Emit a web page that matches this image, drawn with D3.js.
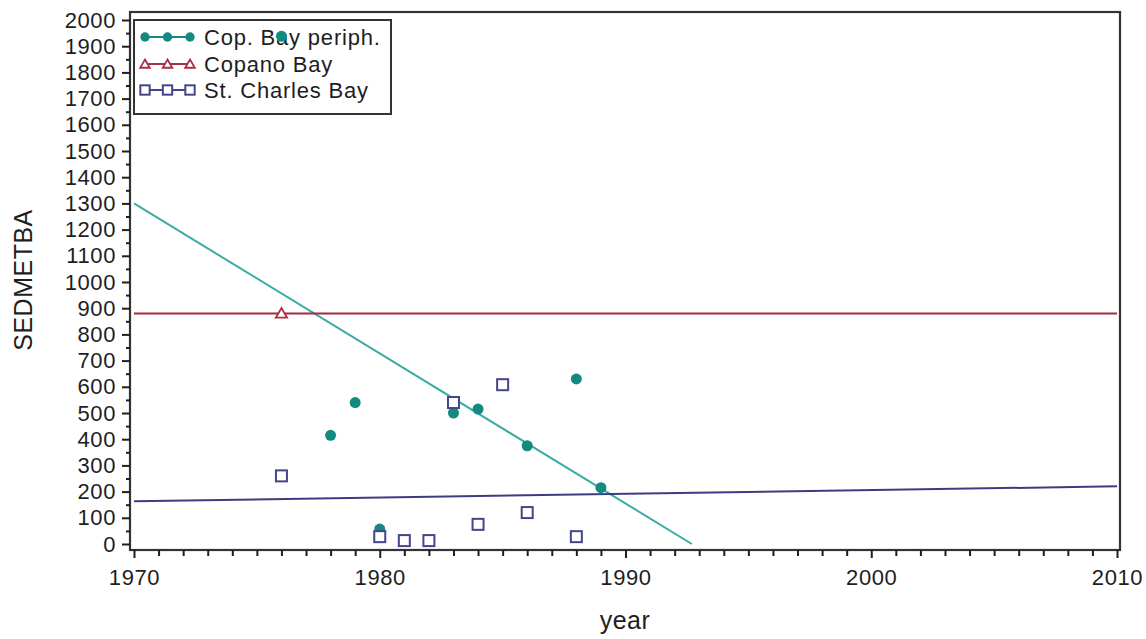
<!DOCTYPE html>
<html><head><meta charset="utf-8">
<script src="https://cdn.jsdelivr.net/npm/d3@7"></script>
<style>
html,body{margin:0;padding:0;background:#fff;}
svg{display:block;font-family:"Liberation Sans",Arial,sans-serif;}
</style></head>
<body>
<svg id="chart" width="1146" height="639"></svg>
<script>
// ---- data ----
const seriesNames = ["Cop. Bay periph.", "Copano Bay", "St. Charles Bay"];
const copPeriphYears  = [1976, 1978, 1979, 1980, 1983, 1984, 1986, 1988, 1989];
const copPeriphValues = [1938, 415, 540, 57, 500, 515, 375, 630, 215];
const copanoYears  = [1976];
const copanoValues = [880];
const stCharlesYears  = [1976, 1980, 1981, 1982, 1983, 1984, 1985, 1986, 1988];
const stCharlesValues = [260, 28, 13, 13, 540, 75, 608, 120, 28];
// fitted trend lines (start/end)
const fitStartYear  = [1970, 1970, 1970];
const fitStartValue = [1300, 880, 163];
const fitEndYear    = [1992.7, 2010, 2010];
const fitEndValue   = [0, 880, 220];
const xTickValues = [1970, 1980, 1990, 2000, 2010];
const yTickValues = d3.range(0, 2001, 100);

const markerColors = ["#138a80", "#a83244", "#45458a"];
const lineColors   = ["#3aaca2", "#a42a3c", "#3c3c82"];

const svg = d3.select("#chart");
const frame = {left: 130, right: 1120, top: 12, bottom: 550};

const x = d3.scaleLinear().domain([1970, 2010]).range([134, 1117]);
const y = d3.scaleLinear().domain([0, 2000]).range([544, 20]);

const fontTick = "22px";
const tickColor = "#1e1e1e";

// frame
svg.append("rect").attr("x", frame.left).attr("y", frame.top)
  .attr("width", frame.right - frame.left).attr("height", frame.bottom - frame.top)
  .attr("fill", "none").attr("stroke", "#333").attr("stroke-width", 2.2);

// y axis
const yAxis = d3.axisLeft(y).tickValues(yTickValues).tickSize(8).tickPadding(6).tickFormat(d3.format("d"));
const gy = svg.append("g").attr("transform", `translate(${frame.left},0)`).call(yAxis);
gy.select(".domain").remove();
gy.selectAll("line").attr("stroke", tickColor).attr("stroke-width", 2);
gy.selectAll("text").attr("font-size", fontTick).attr("letter-spacing", "0.6px").attr("fill", tickColor)
  .attr("font-family", "Liberation Sans, Arial, sans-serif");
const yMinor = d3.axisLeft(y).tickValues(d3.range(50, 2000, 100)).tickSize(4).tickFormat("");
const gym = svg.append("g").attr("transform", `translate(${frame.left},0)`).call(yMinor);
gym.select(".domain").remove();
gym.selectAll("line").attr("stroke", tickColor).attr("stroke-width", 2);

// x axis
const xAxis = d3.axisBottom(x).tickValues(xTickValues).tickSize(8).tickPadding(11).tickFormat(d3.format("d"));
const gx = svg.append("g").attr("transform", `translate(0,${frame.bottom})`).call(xAxis);
gx.select(".domain").remove();
gx.selectAll("line").attr("stroke", tickColor).attr("stroke-width", 2);
gx.selectAll("text").attr("font-size", fontTick).attr("letter-spacing", "0.6px").attr("fill", tickColor)
  .attr("font-family", "Liberation Sans, Arial, sans-serif");
const xMinor = d3.axisBottom(x).tickValues(d3.range(1971, 2010).filter(v => v % 10 !== 0)).tickSize(6).tickFormat("");
const gxm = svg.append("g").attr("transform", `translate(0,${frame.bottom})`).call(xMinor);
gxm.select(".domain").remove();
gxm.selectAll("line").attr("stroke", tickColor).attr("stroke-width", 2);

// axis titles
svg.append("text").attr("x", 625).attr("y", 629).attr("text-anchor", "middle")
  .attr("font-size", "25px").attr("fill", tickColor).attr("letter-spacing", "0.5px").text("year");
svg.append("text").attr("transform", "translate(32,280) rotate(-90)").attr("text-anchor", "middle")
  .attr("font-size", "25px").attr("fill", tickColor).attr("letter-spacing", "0.5px").text("SEDMETBA");

// fit lines
const line = d3.line().x(d => x(d[0])).y(d => y(d[1]));
seriesNames.forEach((s, i) => {
  svg.append("path")
    .attr("d", line([[fitStartYear[i], fitStartValue[i]], [fitEndYear[i], fitEndValue[i]]]))
    .attr("fill", "none").attr("stroke", lineColors[i]).attr("stroke-width", 2);
});

// legend
const lg = svg.append("g");
lg.append("rect").attr("x", 134).attr("y", 20).attr("width", 257).attr("height", 94)
  .attr("fill", "#fff").attr("stroke", "#333").attr("stroke-width", 2);
const legendRowY = [37, 64, 90];
function drawMarker(g, i, cx, cy, small) {
  const s = small ? 0.85 : 1;
  if (i === 0) {
    g.append("circle").attr("cx", cx).attr("cy", cy).attr("r", 5.5 * s).attr("fill", markerColors[0]);
  } else if (i === 1) {
    const tri = d3.symbol().type(d3.symbolTriangle).size(55 * s * s);
    g.append("path").attr("d", tri()).attr("transform", `translate(${cx},${cy + 1})`)
      .attr("fill", "#fff").attr("stroke", markerColors[1]).attr("stroke-width", 1.8);
  } else {
    const h = 5.5 * s;
    g.append("rect").attr("x", cx - h).attr("y", cy - h).attr("width", 2 * h).attr("height", 2 * h)
      .attr("fill", "#fff").attr("stroke", markerColors[2]).attr("stroke-width", 2);
  }
}
seriesNames.forEach((s, i) => {
  const yy = legendRowY[i];
  lg.append("line").attr("x1", 145).attr("x2", 190).attr("y1", yy).attr("y2", yy)
    .attr("stroke", markerColors[i]).attr("stroke-width", 2);
  [145, 167.5, 190].forEach(cx => drawMarker(lg, i, cx, yy, true));
  lg.append("text").attr("x", 204).attr("y", yy + 8).attr("font-size", "22px")
    .attr("letter-spacing", "0.8px").attr("fill", tickColor).text(s);
});

// points
const pts = svg.append("g");
copPeriphYears.forEach((yr, k) => drawMarker(pts, 0, x(yr), y(copPeriphValues[k])));
copanoYears.forEach((yr, k) => drawMarker(pts, 1, x(yr), y(copanoValues[k])));
stCharlesYears.forEach((yr, k) => drawMarker(pts, 2, x(yr), y(stCharlesValues[k])));
</script>
</body></html>
